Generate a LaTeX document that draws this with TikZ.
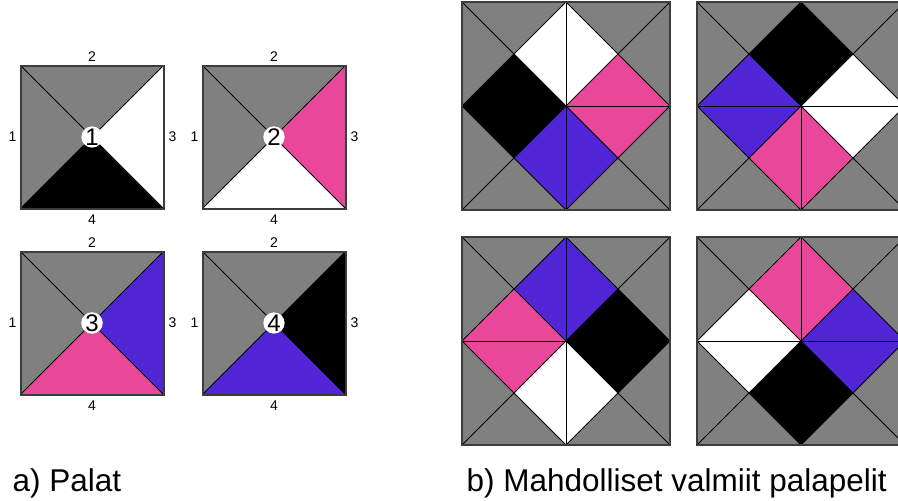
\documentclass[tikz,border=0pt]{standalone}
\usepackage{fontspec}
\setmainfont{Liberation Sans}
\usetikzlibrary{calc}

\definecolor{palagray}{RGB}{128,128,128}
\definecolor{palapink}{RGB}{233,71,153}
\definecolor{palablue}{RGB}{80,37,213}
\definecolor{palaedge}{RGB}{60,60,60}

% one tile: corner x, corner y, side, then top/right/bottom/left colours
\newcommand{\pala}[7]{%
  \coordinate (nw) at (#1,#2);
  \coordinate (ne) at (#1+#3,#2);
  \coordinate (se) at (#1+#3,#2+#3);
  \coordinate (sw) at (#1,#2+#3);
  \coordinate (m) at (#1+#3/2,#2+#3/2);
  \fill[#4] (nw)--(ne)--(m)--cycle;
  \fill[#5] (ne)--(se)--(m)--cycle;
  \fill[#6] (se)--(sw)--(m)--cycle;
  \fill[#7] (sw)--(nw)--(m)--cycle;
  \draw[tileline] (nw)--(se) (ne)--(sw);
}
% frame of a finished puzzle at x, y (side 208)
\newcommand{\palapeli}[2]{%
  \draw[tileline] (#1+104,#2)--(#1+104,#2+208) (#1,#2+104)--(#1+208,#2+104);
  \draw[tileedge] (#1,#2) rectangle (#1+208,#2+208);
}

\begin{document}
\begin{tikzpicture}[x=1pt,y=-1pt,
  tileline/.style={black,line width=0.9pt},
  tileedge/.style={palaedge,line width=2pt},
  sidelabel/.style={font=\fontsize{14}{14}\selectfont},
  numdisc/.style={circle,fill=white,inner sep=0pt,minimum size=19pt,
    font=\fontsize{24}{24}\selectfont},
  captext/.style={anchor=base west,font=\fontsize{31.5}{31.5}\selectfont}]
  \useasboundingbox (0,0) rectangle (898,501);
  \clip (0,0) rectangle (898,501);

  % a) the four tiles
  \pala{20.5}{65.5}{143}{palagray}{white}{black}{palagray}
  \draw[tileedge] (nw) rectangle (se);
  \node[numdisc] (n1) at (m) {1};
  \node[sidelabel] (n1l) at ($(nw)!0.5!(sw)+(-8,0)$) {1};
  \node[sidelabel] (n1t) at ($(nw)!0.5!(ne)+(0,-9)$) {2};
  \node[sidelabel] (n1r) at ($(ne)!0.5!(se)+(9,0)$) {3};
  \node[sidelabel] (n1b) at ($(sw)!0.5!(se)+(0,11)$) {4};

  \pala{202.5}{65.5}{143}{palagray}{palapink}{white}{palagray}
  \draw[tileedge] (nw) rectangle (se);
  \node[numdisc] (n2) at (m) {2};
  \node[sidelabel] (n2l) at ($(nw)!0.5!(sw)+(-8,0)$) {1};
  \node[sidelabel] (n2t) at ($(nw)!0.5!(ne)+(0,-9)$) {2};
  \node[sidelabel] (n2r) at ($(ne)!0.5!(se)+(9,0)$) {3};
  \node[sidelabel] (n2b) at ($(sw)!0.5!(se)+(0,11)$) {4};

  \pala{20.5}{251.5}{143}{palagray}{palablue}{palapink}{palagray}
  \draw[tileedge] (nw) rectangle (se);
  \node[numdisc] (n3) at (m) {3};
  \node[sidelabel] (n3l) at ($(nw)!0.5!(sw)+(-8,0)$) {1};
  \node[sidelabel] (n3t) at ($(nw)!0.5!(ne)+(0,-9)$) {2};
  \node[sidelabel] (n3r) at ($(ne)!0.5!(se)+(9,0)$) {3};
  \node[sidelabel] (n3b) at ($(sw)!0.5!(se)+(0,11)$) {4};

  \pala{202.5}{251.5}{143}{palagray}{black}{palablue}{palagray}
  \draw[tileedge] (nw) rectangle (se);
  \node[numdisc] (n4) at (m) {4};
  \node[sidelabel] (n4l) at ($(nw)!0.5!(sw)+(-8,0)$) {1};
  \node[sidelabel] (n4t) at ($(nw)!0.5!(ne)+(0,-9)$) {2};
  \node[sidelabel] (n4r) at ($(ne)!0.5!(se)+(9,0)$) {3};
  \node[sidelabel] (n4b) at ($(sw)!0.5!(se)+(0,11)$) {4};

  % b) finished puzzles
  \pala{462}{2}{104}{palagray}{white}{black}{palagray}
  \pala{566}{2}{104}{palagray}{palagray}{palapink}{white}
  \pala{462}{106}{104}{black}{palablue}{palagray}{palagray}
  \pala{566}{106}{104}{palapink}{palagray}{palagray}{palablue}
  \palapeli{462}{2}

  \pala{697}{2}{104}{palagray}{black}{palablue}{palagray}
  \pala{801}{2}{104}{palagray}{palagray}{white}{black}
  \pala{697}{106}{104}{palablue}{palapink}{palagray}{palagray}
  \pala{801}{106}{104}{white}{palagray}{palagray}{palapink}
  \palapeli{697}{2}

  \pala{462}{237}{104}{palagray}{palablue}{palapink}{palagray}
  \pala{566}{237}{104}{palagray}{palagray}{black}{palablue}
  \pala{462}{341}{104}{palapink}{white}{palagray}{palagray}
  \pala{566}{341}{104}{black}{palagray}{palagray}{white}
  \palapeli{462}{237}

  \pala{697}{237}{104}{palagray}{palapink}{white}{palagray}
  \pala{801}{237}{104}{palagray}{palagray}{palablue}{palapink}
  \pala{697}{341}{104}{white}{black}{palagray}{palagray}
  \pala{801}{341}{104}{palablue}{palagray}{palagray}{black}
  \palapeli{697}{237}

  \node[captext] (capa) at (9,491) {a) Palat};
  \node[captext] (capb) at (463,491) {b) Mahdolliset valmiit palapelit};
\end{tikzpicture}
\end{document}
